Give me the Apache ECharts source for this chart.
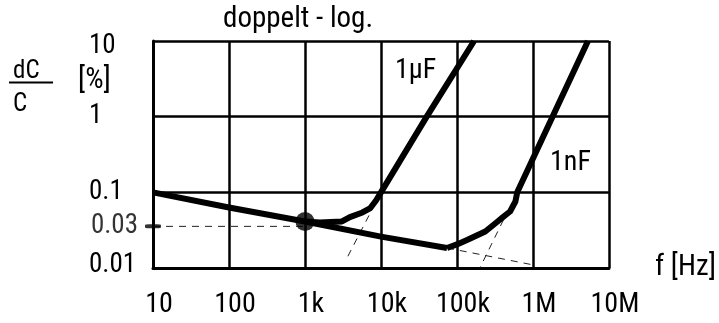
<!DOCTYPE html>
<html>
<head>
<meta charset="utf-8">
<script src="https://cdn.jsdelivr.net/npm/echarts@6/dist/echarts.min.js"></script>
<style>
html,body{margin:0;padding:0;background:#fff;}
#chart{width:719px;height:323px;}
</style>
</head>
<body>
<div id="chart"></div>
<script>
// Tick labels
const xTickLabels = ['10', '100', '1k', '10k', '100k', '1M', '10M'];
const yTickLabels = ['0.01', '0.1', '1', '10'];

// Curves [f (Hz), dC/C (%)]
const mainCurve = [[10, 0.1], [100, 0.063], [1000, 0.0412], [10000, 0.026], [74000, 0.0184]];
const curve1uF = [[1000, 0.0412], [1570, 0.040], [3065, 0.0412], [3900, 0.0471], [5710, 0.0542], [7250, 0.062], [8610, 0.078], [10000, 0.1], [40000, 1.0], [168000, 10]];
const curve1nF = [[74000, 0.0184], [100000, 0.0205], [138000, 0.0236], [236000, 0.0304], [343000, 0.0412], [403000, 0.0471], [500000, 0.0558], [588000, 0.0757], [621000, 0.1], [1810000, 1.0], [5300000, 10]];

// Dashed construction lines
const refLine = [[10, 0.0355], [1000, 0.0355]];
const ext1uF = [[10000, 0.1], [3380, 0.0122]];
const extMain = [[74000, 0.0184], [1000000, 0.011]];
const ext1nF = [[410000, 0.0434], [201000, 0.0101]];

// Marked point and reference tick
const refPoint = [[1000, 0.0412]];
const refTick = [[10, 0.0355]];
const refTickLabel = '0.03';

const FONT = 'Roboto Condensed';
const chart = echarts.init(document.getElementById('chart'), null, {renderer: 'canvas'});

const solid = (data) => ({
  type: 'line', data, symbol: 'none', showSymbol: false, silent: true,
  lineStyle: {color: '#000', width: 6, join: 'round'}, z: 5
});
const dashed = (data) => ({
  type: 'line', data, symbol: 'none', showSymbol: false, silent: true,
  lineStyle: {color: '#222', width: 1, type: [7, 6]}, z: 3
});

const txt = (text, left, top, size) => ({
  text, left, top, padding: 0,
  textStyle: {fontFamily: FONT, fontSize: size, fontWeight: 'normal', color: '#000'}
});

chart.setOption({
  animation: false,
  backgroundColor: '#fff',
  textStyle: {fontFamily: FONT},
  title: [
    txt('doppelt - log.', 223, 5.5, 29),
    txt('dC', 13, 59, 25),
    txt('C', 13, 92.5, 25),
    txt('[%]', 78, 66, 29),
    txt('1µF', 395, 57, 28),
    txt('1nF', 550, 149, 28)
  ],
  graphic: [{
    type: 'line', shape: {x1: 9, y1: 82.5, x2: 53, y2: 82.5},
    style: {stroke: '#000', lineWidth: 2}
  }],
  grid: {left: 153, top: 41, width: 458, height: 227, containLabel: false},
  xAxis: {
    type: 'log', logBase: 10, min: 10, max: 1e7,
    name: 'f [Hz]', nameLocation: 'end', nameGap: 46,
    nameTextStyle: {fontFamily: FONT, fontSize: 29, color: '#000', verticalAlign: 'middle', padding: [0, 0, 4, 0]},
    axisLine: {show: true, onZero: false, lineStyle: {color: '#000', width: 3}},
    axisTick: {show: false},
    splitLine: {show: true, lineStyle: {color: '#000', width: 2.5}},
    axisLabel: {
      show: true, margin: 23, fontFamily: FONT, fontSize: 28, color: '#000',
      padding: [0, 0, 0, 12], showMinLabel: true, showMaxLabel: true,
      formatter: (v) => xTickLabels[Math.round(Math.log10(v)) - 1] || ''
    }
  },
  yAxis: {
    type: 'log', logBase: 10, min: 0.01, max: 10,
    axisLine: {show: true, onZero: false, lineStyle: {color: '#000', width: 3}},
    axisTick: {show: false},
    splitLine: {show: true, lineStyle: {color: '#000', width: 2.5}},
    axisLabel: {
      show: true, margin: 64, align: 'left', fontFamily: FONT, fontSize: 27, color: '#000',
      showMinLabel: true, showMaxLabel: true,
      formatter: (v) => {
        const i = Math.round(Math.log10(v)) + 2;
        const s = yTickLabels[i] || '';
        if (i === yTickLabels.length - 1) return '{top|' + s + '}';
        if (i === 0) return '{bot|' + s + '}';
        return s;
      },
      rich: {
        top: {fontFamily: FONT, fontSize: 27, color: '#000', padding: [11, 0, 0, 0]},
        bot: {fontFamily: FONT, fontSize: 27, color: '#000', padding: [0, 0, 6, 0]}
      }
    }
  },
  series: [
    dashed(refLine),
    dashed(ext1uF),
    dashed(extMain),
    dashed(ext1nF),
    solid(mainCurve),
    solid(curve1uF),
    solid(curve1nF),
    {
      type: 'scatter', data: refTick, symbol: 'roundRect', symbolSize: [16, 4],
      itemStyle: {color: '#000'}, silent: true, z: 6, clip: false,
      label: {show: true, position: 'left', distance: 7, formatter: () => refTickLabel,
        fontFamily: FONT, fontSize: 27, color: '#000'}
    },
    {
      type: 'scatter', data: refPoint, symbol: 'circle', symbolSize: 19,
      itemStyle: {color: '#000'}, silent: true, z: 7
    }
  ]
});
</script>
</body>
</html>
